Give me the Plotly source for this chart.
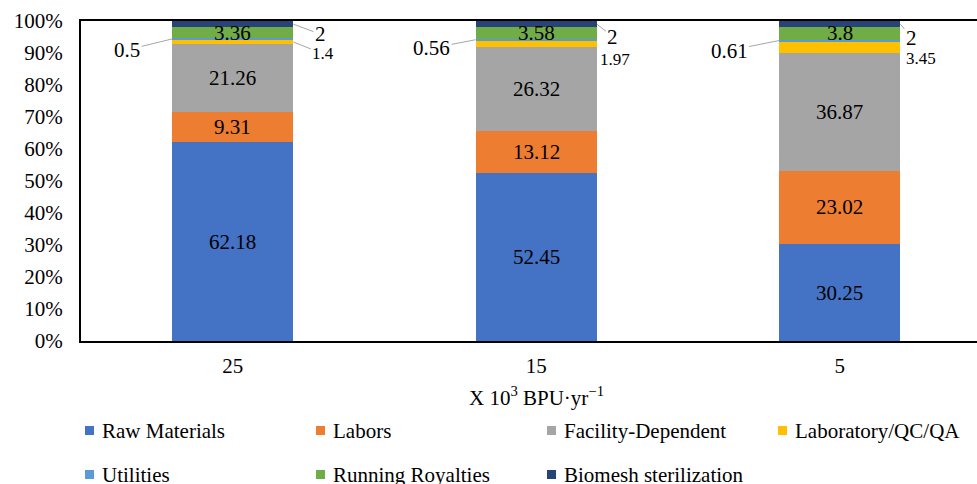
import numpy as np
import plotly.graph_objects as go

# ---------------- data ----------------
categories = ["25", "15", "5"]
series_names = ["Raw Materials", "Labors", "Facility-Dependent", "Laboratory/QC/QA",
                "Utilities", "Running Royalties", "Biomesh sterilization"]
raw_materials = [62.18, 52.45, 30.25]
labors = [9.31, 13.12, 23.02]
facility_dependent = [21.26, 26.32, 36.87]
laboratory_qc_qa = [1.4, 1.97, 3.45]
utilities = [0.5, 0.56, 0.61]
running_royalties = [3.36, 3.58, 3.8]
biomesh_sterilization = [2, 2, 2]
y_tick_values = [0, 10, 20, 30, 40, 50, 60, 70, 80, 90, 100]
y_tick_labels = [f"{v}%" for v in y_tick_values]
x_axis_title = "X 10<sup>3</sup> BPU·yr<sup>−1</sup>"

series_values = [raw_materials, labors, facility_dependent, laboratory_qc_qa,
                 utilities, running_royalties, biomesh_sterilization]

# ---------------- style ----------------
colors = ["#4472C4", "#ED7D31", "#A5A5A5", "#FFC000", "#5B9BD5", "#70AD47", "#264478"]
FONT = "'Liberation Serif', 'Times New Roman', 'DejaVu Serif', serif"
W, H = 977, 484
L, T, B_PX = 81, 21, 341          # plot-area left, top, bottom in pixels
PLOT_W = W - L
PLOT_H = B_PX - T
BAR_W = 0.4
LEADER = "#A6A6A6"


def xp(px):
    return (px - L) / PLOT_W


def yp(py):
    return (B_PX - py) / PLOT_H


fig = go.Figure()
for name, vals, col in zip(series_names, series_values, colors):
    fig.add_trace(go.Bar(
        x=categories, y=vals, name=name, width=BAR_W,
        marker=dict(color=col, line=dict(color="white", width=0)),
        showlegend=False, hovertemplate=name + ": %{y}<extra></extra>",
    ))

# cumulative positions (normalised to 100 %)
M = np.array(series_values, dtype=float)
Mn = M / M.sum(axis=0) * 100.0
cum = np.cumsum(Mn, axis=0)
mid = cum - Mn / 2.0

annotations = []
# centred labels
for i in [0, 1, 2, 5]:
    for j in range(len(categories)):
        annotations.append(dict(
            x=j, y=mid[i, j], xref="x", yref="y", text=f"{M[i, j]:g}",
            showarrow=False, font=dict(family=FONT, size=21, color="black")))

# outside labels with leader lines: (series index, side, offsets, leader?, font size)
outside = [
    (4, -1, [(-45, 11), (-44, 8.5), (-50, 10)], [True, True, True], 21),
    (6, 1, [(27, 10), (16, 12.5), (11, 13.5)], [True, True, True], 21),
    (3, 1, [(30, 12), (18, 16), (21, 11)], [True, False, False], 17),
]
for i, side, offs, leaders, fs in outside:
    for j in range(len(categories)):
        ax, ay = offs[j]
        annotations.append(dict(
            x=j + side * BAR_W / 2, y=mid[i, j], xref="x", yref="y",
            text=f"{M[i, j]:g}", showarrow=True, arrowhead=0, arrowwidth=1,
            arrowcolor=LEADER if leaders[j] else "rgba(0,0,0,0)",
            ax=ax, ay=ay, standoff=0,
            font=dict(family=FONT, size=fs, color="black")))

# axis title
annotations.append(dict(
    x=xp(536), y=yp(396), xref="paper", yref="paper", text=x_axis_title,
    showarrow=False, xanchor="center", yanchor="middle",
    font=dict(family=FONT, size=21, color="black")))

# manual legend
shapes = []
for k, (name, col) in enumerate(zip(series_names, colors)):
    c, r = k % 4, k // 4
    mx = 85 + 231 * c
    my = 430.5 + 44 * r
    shapes.append(dict(type="rect", xref="paper", yref="paper",
                       x0=xp(mx), x1=xp(mx + 9), y0=yp(my + 4.5), y1=yp(my - 4.5),
                       fillcolor=col, line=dict(width=0)))
    annotations.append(dict(
        x=xp(mx + 15), y=yp(my), xref="paper", yref="paper", text=name,
        showarrow=False, xanchor="left", yanchor="middle",
        font=dict(family=FONT, size=21, color="black")))

fig.update_layout(
    width=W, height=H,
    margin=dict(l=L, r=0, t=T, b=H - B_PX, pad=0),
    barmode="stack", barnorm="percent",
    plot_bgcolor="white", paper_bgcolor="white",
    font=dict(family=FONT, size=21, color="black"),
    annotations=annotations, shapes=shapes,
    xaxis=dict(type="category", range=[-0.5, -0.5 + PLOT_W / 303.5],
               showline=True, linecolor="black", linewidth=2, mirror=True,
               ticks="", showgrid=False, zeroline=False,
               ticklabelstandoff=5, tickfont=dict(family=FONT, size=21, color="black")),
    yaxis=dict(range=[0, 100], tickvals=y_tick_values, ticktext=y_tick_labels,
               showline=True, linecolor="black", linewidth=2,
               ticks="", showgrid=False, zeroline=False,
               ticklabelstandoff=12, tickfont=dict(family=FONT, size=21, color="black")),
)

fig.write_html(
    "out.html",
    config={"displayModeBar": False},
    post_script="document.body.style.margin='0';document.body.style.padding='0';"
                "document.body.style.overflow='hidden';",
)
